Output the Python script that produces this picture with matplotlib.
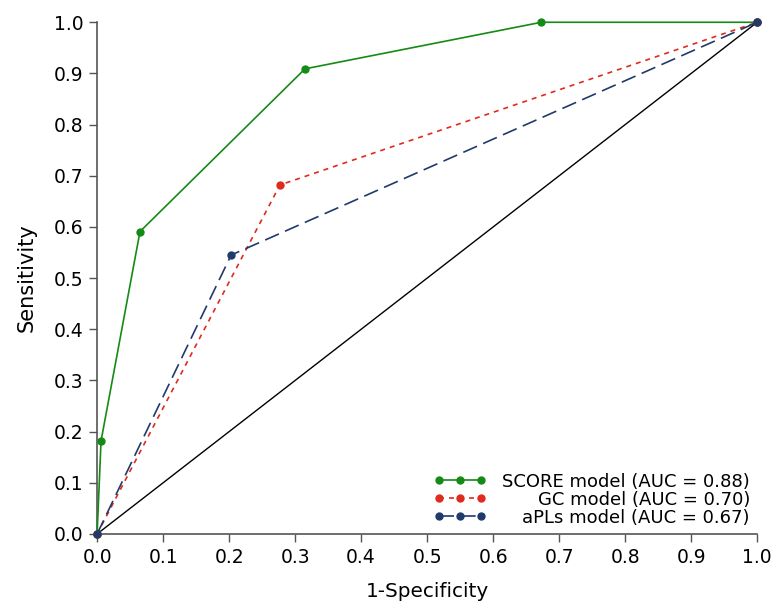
import matplotlib
matplotlib.use("Agg")
import matplotlib.pyplot as plt

plt.rcParams['font.family'] = ['DejaVu Sans']

score_x = [0.0, 0.006, 0.065, 0.315, 0.673, 1.0]
score_y = [0.0, 0.182, 0.591, 0.909, 1.0, 1.0]
gc_x = [0.0, 0.277, 1.0]
gc_y = [0.0, 0.682, 1.0]
apl_x = [0.0, 0.203, 1.0]
apl_y = [0.0, 0.545, 1.0]
ref_x = [0.0, 1.0]
ref_y = [0.0, 1.0]
labels = ["SCORE model (AUC = 0.88)", "GC model (AUC = 0.70)", "aPLs model (AUC = 0.67)"]
ticks = [0.0, 0.1, 0.2, 0.3, 0.4, 0.5, 0.6, 0.7, 0.8, 0.9, 1.0]

green = '#168a16'
red = '#e02a1e'
navy = '#203a6b'

fig = plt.figure(figsize=(7.83, 6.02), dpi=100)
ax = fig.add_axes([0.124, 0.113, 0.843, 0.85])

ax.plot(ref_x, ref_y, color='black', lw=1.0, clip_on=False, zorder=2)
l1, = ax.plot(score_x, score_y, color=green, lw=1.2, marker='o', ms=5, clip_on=False, zorder=3)
l2, = ax.plot(gc_x, gc_y, color=red, lw=1.2, ls=(0, (3, 3)), marker='o', ms=5, clip_on=False, zorder=3)
l3, = ax.plot(apl_x, apl_y, color=navy, lw=1.2, ls=(0, (9, 4)), marker='o', ms=5, clip_on=False, zorder=4)

ax.set_xlim(0, 1)
ax.set_ylim(0, 1)
ax.set_xticks(ticks)
ax.set_yticks(ticks)
ax.set_xticklabels([f"{t:.1f}" for t in ticks])
ax.set_yticklabels([f"{t:.1f}" for t in ticks])
ax.tick_params(direction='out', length=6, width=1, colors='#555555', labelcolor='black', labelsize=13.5, pad=4)
for s in ['top', 'right']:
    ax.spines[s].set_visible(False)
for s in ['left', 'bottom']:
    ax.spines[s].set_color('#555555')
    ax.spines[s].set_linewidth(1.2)

ax.set_xlabel("1-Specificity", fontsize=14.4, labelpad=11)
ax.set_ylabel("Sensitivity", fontsize=15, labelpad=12)

leg = ax.legend([l1, l2, l3], labels, loc='lower right', bbox_to_anchor=(1.0, 0.0),
                frameon=False, numpoints=3, fontsize=13, handlelength=2.9,
                handletextpad=0.9, labelspacing=0.0, borderaxespad=0.0)
fig.canvas.draw()
renderer = fig.canvas.get_renderer()
exts = [t.get_window_extent(renderer) for t in leg.get_texts()]
right = max(e.x1 for e in exts)
for t, e in zip(leg.get_texts(), exts):
    t.set_alpha(0)
    fig.text(right / fig.bbox.width, (e.y0 + e.y1) / 2 / fig.bbox.height, t.get_text(),
             ha='right', va='center', fontsize=13)

fig.savefig("out.png", dpi=100)
